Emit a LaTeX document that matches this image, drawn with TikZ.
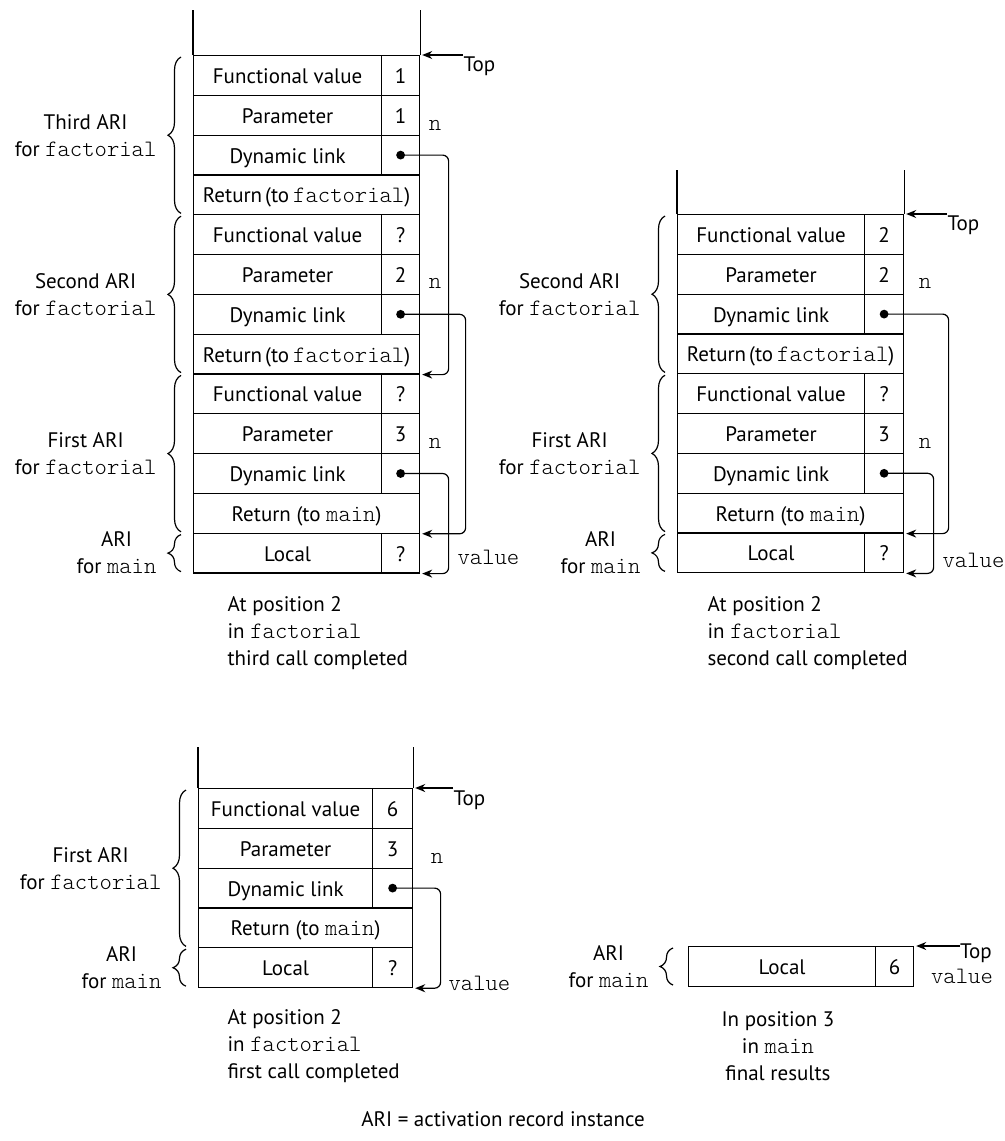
\documentclass[tikz,border=0pt]{standalone}
\usepackage{fontspec}
\setmainfont{PT Sans}
\newfontfamily\codefont{lmmonolt10-regular.otf}[Scale=1.12]
\usetikzlibrary{arrows.meta,decorations.pathreplacing}
\newcommand{\cf}[1]{{\codefont #1}}
\newcommand{\txtsize}{\fontsize{10.5}{13.5}\selectfont}

\begin{document}
\begin{tikzpicture}[x=0.5pt,y=-0.5pt,line width=0.6pt,font=\txtsize,>={Stealth[length=5pt,width=4pt,inset=1.6pt]},
	cell/.style={draw,anchor=north west,inner sep=0pt,minimum height=19.9pt,text height=8pt,text depth=0pt},
	link/.style={->,rounded corners=3pt,shorten >=1pt},
	ari/.style={decorate,decoration={brace,amplitude=6.5pt}},
	arilabel/.style={midway,left=12pt,inner sep=0pt,align=center},
	code/.style={inner sep=0pt,font=\txtsize\codefont},
	note/.style={inner sep=0pt}]
	\useasboundingbox (0,0) rectangle (1005,1141);
	
	% third call completed
	\foreach \i/\lab/\val in {1/Functional value/1,2/Parameter/1,3/Dynamic link/{},5/Functional value/?,6/Parameter/2,7/Dynamic link/{},9/Functional value/?,10/Parameter/3,11/Dynamic link/{},13/Local/?}{
		\node[cell,minimum width=94pt] (s1r\i) at (193,{55+(\i-1)*39.8}) {\lab};
		\node[cell,minimum width=19pt] (s1v\i) at (381,{55+(\i-1)*39.8}) {\val};
	}
	\foreach \i/\lab in {4/Return\hspace{1.5pt}(to\hspace{2pt}\cf{factorial}),8/Return\hspace{1.5pt}(to\hspace{2pt}\cf{factorial}),12/Return (to \cf{main})}
		\node[cell,minimum width=113pt] (s1r\i) at (193,{55+(\i-1)*39.8}) {\lab};
	\draw (s1r1.north west) -- ++(0,-45);
	\draw (s1v1.north east) -- ++(0,-45);
	\node[note,anchor=west] (top1) at (463,66) {Top};
	\draw[->,shorten >=1pt] (top1.west |- s1v1.north east) -- (s1v1.north east);
	\node[code] (n1a) at (435,125) {n};
	\node[code] (n1b) at (435,283) {n};
	\node[code] (n1c) at (435,443) {n};
	\node[code,anchor=west] (val1) at (457,557) {value};
	\foreach \a/\b/\d in {3/r8/48,7/r12/65,11/v13/48}{
		\fill (s1v\a.center) circle (2.2pt);
		\draw[link] (s1v\a.center) -- ++(\d,0) |- (s1\b.south east);
	}
	\draw[ari] ([xshift=-6pt,yshift=1pt]s1r4.south west) -- ([xshift=-6pt,yshift=-1pt]s1r1.north west) node[arilabel] (a1a) {Third ARI\\for \cf{factorial}};
	\draw[ari] ([xshift=-6pt,yshift=1pt]s1r8.south west) -- ([xshift=-6pt,yshift=-1pt]s1r5.north west) node[arilabel] (a1b) {Second ARI\\for \cf{factorial}};
	\draw[ari] ([xshift=-6pt,yshift=1pt]s1r12.south west) -- ([xshift=-6pt,yshift=-1pt]s1r9.north west) node[arilabel] (a1c) {First ARI\\for \cf{factorial}};
	\draw[ari] ([xshift=-6pt,yshift=1pt]s1r13.south west) -- ([xshift=-6pt,yshift=-1pt]s1r13.north west) node[arilabel] (a1d) {ARI\\for \cf{main}};
	\node[note,align=left,anchor=west] (cap1) at (227,633) {At position 2\\in \cf{factorial}\\third call completed};
	
	% second call completed
	\foreach \i/\lab/\val in {1/Functional value/2,2/Parameter/2,3/Dynamic link/{},5/Functional value/?,6/Parameter/3,7/Dynamic link/{},9/Local/?}{
		\node[cell,minimum width=93.5pt] (s2r\i) at (677,{214+(\i-1)*39.8}) {\lab};
		\node[cell,minimum width=19.5pt] (s2v\i) at (864,{214+(\i-1)*39.8}) {\val};
	}
	\foreach \i/\lab in {4/Return\hspace{1.5pt}(to\hspace{2pt}\cf{factorial}),8/Return (to \cf{main})}
		\node[cell,minimum width=113pt] (s2r\i) at (677,{214+(\i-1)*39.8}) {\lab};
	\draw (s2r1.north west) -- ++(0,-44);
	\draw (s2v1.north east) -- ++(0,-44);
	\node[note,anchor=west] (top2) at (947,225) {Top};
	\draw[->,shorten >=1pt] (top2.west |- s2v1.north east) -- (s2v1.north east);
	\node[code] (n2a) at (925,283) {n};
	\node[code] (n2b) at (925,443) {n};
	\node[code,anchor=west] (val2) at (942,560) {value};
	\foreach \a/\b/\d in {3/r8/64.5,7/v9/49.5}{
		\fill (s2v\a.center) circle (2.2pt);
		\draw[link] (s2v\a.center) -- ++(\d,0) |- (s2\b.south east);
	}
	\draw[ari] ([xshift=-6pt,yshift=1pt]s2r4.south west) -- ([xshift=-6pt,yshift=-1pt]s2r1.north west) node[arilabel] (a2a) {Second ARI\\for \cf{factorial}};
	\draw[ari] ([xshift=-6pt,yshift=1pt]s2r8.south west) -- ([xshift=-6pt,yshift=-1pt]s2r5.north west) node[arilabel] (a2b) {First ARI\\for \cf{factorial}};
	\draw[ari] ([xshift=-6pt,yshift=1pt]s2r9.south west) -- ([xshift=-6pt,yshift=-1pt]s2r9.north west) node[arilabel] (a2c) {ARI\\for \cf{main}};
	\node[note,align=left,anchor=west] (cap2) at (707,633) {At position 2\\in \cf{factorial}\\second call completed};
	
	% first call completed
	\foreach \i/\lab/\val in {1/Functional value/6,2/Parameter/3,3/Dynamic link/{},5/Local/?}{
		\node[cell,minimum width=87pt] (s3r\i) at (198,{788+(\i-1)*39.8}) {\lab};
		\node[cell,minimum width=20pt] (s3v\i) at (372,{788+(\i-1)*39.8}) {\val};
	}
	\node[cell,minimum width=107pt] (s3r4) at (198,{788+3*39.8}) {Return (to \cf{main})};
	\draw (s3r1.north west) -- ++(0,-41);
	\draw (s3v1.north east) -- ++(0,-41);
	\node[note,anchor=west] (top3) at (453,800) {Top};
	\draw[->,shorten >=1pt] (top3.west |- s3v1.north east) -- (s3v1.north east);
	\node[code] (n3a) at (437,858) {n};
	\node[code,anchor=west] (val3) at (448,983) {value};
	\fill (s3v3.center) circle (2.2pt);
	\draw[link] (s3v3.center) -- ++(48,0) |- (s3v5.south east);
	\draw[ari] ([xshift=-6pt,yshift=1pt]s3r4.south west) -- ([xshift=-6pt,yshift=-1pt]s3r1.north west) node[arilabel] (a3a) {First ARI\\for \cf{factorial}};
	\draw[ari] ([xshift=-6pt,yshift=1pt]s3r5.south west) -- ([xshift=-6pt,yshift=-1pt]s3r5.north west) node[arilabel] (a3b) {ARI\\for \cf{main}};
	\node[note,align=left,anchor=west] (cap3) at (227,1046) {At position 2\\in \cf{factorial}\\first call completed};
	
	% final results
	\node[cell,minimum width=93.5pt] (s4r1) at (688,946) {Local};
	\node[cell,minimum width=19pt] (s4v1) at (875,946) {6};
	\node[note] (top4) at (976,953) {Top};
	\draw[->,shorten >=1pt] (top4.west |- s4v1.north east) -- (s4v1.north east);
	\node[code] (val4) at (962,976) {value};
	\draw[ari] ([xshift=-7.5pt,yshift=1pt]s4r1.south west) -- ([xshift=-7.5pt,yshift=-1pt]s4r1.north west) node[arilabel] (a4a) {ARI\\for \cf{main}};
	\node[note,align=center] (cap4) at (778,1046) {In position 3\\in \cf{main}\\final results};
	
	\node (key) at (503,1119) {ARI = activation record instance};
\end{tikzpicture}
\end{document}
